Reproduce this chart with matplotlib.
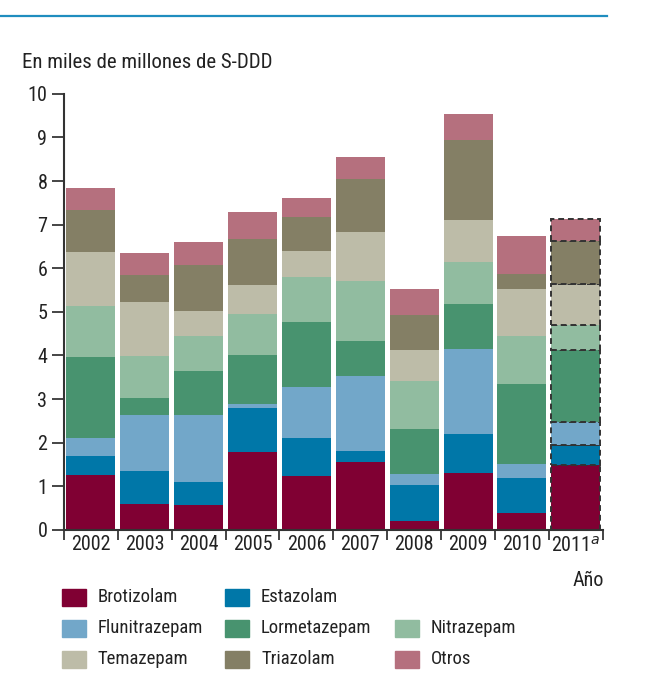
import matplotlib
matplotlib.use('Agg')
import matplotlib.pyplot as plt
from matplotlib.patches import Rectangle
from matplotlib.lines import Line2D

plt.rcParams['font.family'] = ['Roboto Condensed', 'Liberation Sans Narrow',
                               'Liberation Sans', 'DejaVu Sans']

years = ['2002', '2003', '2004', '2005', '2006', '2007', '2008', '2009', '2010', '2011']
drugs = ['Brotizolam', 'Estazolam', 'Flunitrazepam', 'Lormetazepam', 'Nitrazepam',
         'Temazepam', 'Triazolam', 'Otros']
colors = ['#800033', '#0077A8', '#72A7C9', '#48936F', '#91BCA0',
          '#BDBCA8', '#847F65', '#B5707E']

brotizolam    = [1.26, 0.60, 0.57, 1.79, 1.24, 1.56, 0.21, 1.31, 0.39, 1.49]
estazolam     = [0.43, 0.75, 0.53, 1.00, 0.87, 0.25, 0.82, 0.89, 0.80, 0.46]
flunitrazepam = [0.42, 1.28, 1.53, 0.10, 1.16, 1.72, 0.25, 1.94, 0.32, 0.52]
lormetazepam  = [1.85, 0.39, 1.01, 1.12, 1.49, 0.80, 1.03, 1.04, 1.83, 1.65]
nitrazepam    = [1.17, 0.96, 0.80, 0.94, 1.03, 1.37, 1.10, 0.96, 1.10, 0.57]
temazepam     = [1.24, 1.24, 0.58, 0.66, 0.60, 1.12, 0.71, 0.96, 1.08, 0.94]
triazolam     = [0.96, 0.62, 1.05, 1.05, 0.78, 1.22, 0.80, 1.83, 0.34, 0.99]
otros         = [0.50, 0.50, 0.53, 0.64, 0.43, 0.52, 0.60, 0.60, 0.87, 0.52]
series = [brotizolam, estazolam, flunitrazepam, lormetazepam, nitrazepam,
          temazepam, triazolam, otros]

# legend layout (row, col) like the original
legend_pos = [(0, 0), (0, 1), (1, 0), (1, 1), (1, 2), (2, 0), (2, 1), (2, 2)]

fig = plt.figure(figsize=(6.46, 7.0), dpi=100)
ax = fig.add_axes([0.099, 0.243, 0.834, 0.623])

x = list(range(len(years)))
bottom = [0.0] * len(years)
for vals, col in zip(series, colors):
    ax.bar(x[:-1], vals[:-1], bottom=bottom[:-1], width=0.91, color=col,
           edgecolor='none', linewidth=0)
    # last year is an estimate: dashed outline
    ax.bar(x[-1], vals[-1], bottom=bottom[-1], width=0.91, color=col,
           edgecolor='#333333', linestyle=(0, (3, 2)), linewidth=1.4)
    bottom = [b + v for b, v in zip(bottom, vals)]

fs = 14.5

ax.set_xlim(-0.5, len(years) - 0.5)
ax.set_ylim(0, 10)
ax.set_yticks(range(0, 11))
ax.tick_params(axis='y', direction='out', length=9, width=1.4, color='#444444',
               labelsize=fs, labelcolor='#222222', pad=3)

ax.set_xticks(x)
labels = years[:-1] + ['2011$^{\\mathit{a}}$']
ax.set_xticklabels(labels)
ax.set_xticks([i - 0.5 for i in range(len(years) + 1)], minor=True)
ax.tick_params(axis='x', which='major', length=0, labelsize=fs,
               labelcolor='#222222', pad=4)
ax.tick_params(axis='x', which='minor', direction='out', length=7, width=1.4,
               color='#444444')

for s in ['top', 'right']:
    ax.spines[s].set_visible(False)
for s in ['left', 'bottom']:
    ax.spines[s].set_color('#333333')
    ax.spines[s].set_linewidth(1.5)

# header line
fig.add_artist(Line2D([0.0, 0.94], [1 - 15.5 / 700, 1 - 15.5 / 700],
                      color='#1F8DBF', linewidth=1.6))

fig.text(22 / 646, 1 - 62 / 700, 'En miles de millones de S-DDD', fontsize=15,
         color='#222222', va='center', ha='left')
fig.text(604 / 646, 1 - 580 / 700, 'Año', fontsize=fs, color='#222222',
         va='center', ha='right')

# legend
col_x = [62, 225, 395]
row_y = [597, 628, 659]
for (r, c), name, col in zip(legend_pos, drugs, colors):
    x0 = col_x[c] / 646
    y0 = 1 - (row_y[r] + 8.5) / 700
    fig.add_artist(Rectangle((x0, y0), 24 / 646, 17 / 700, color=col,
                             transform=fig.transFigure))
    fig.text((col_x[c] + 36) / 646, 1 - row_y[r] / 700, name, fontsize=13.5,
             color='#222222', va='center', ha='left')

fig.savefig('out.png', dpi=100)
